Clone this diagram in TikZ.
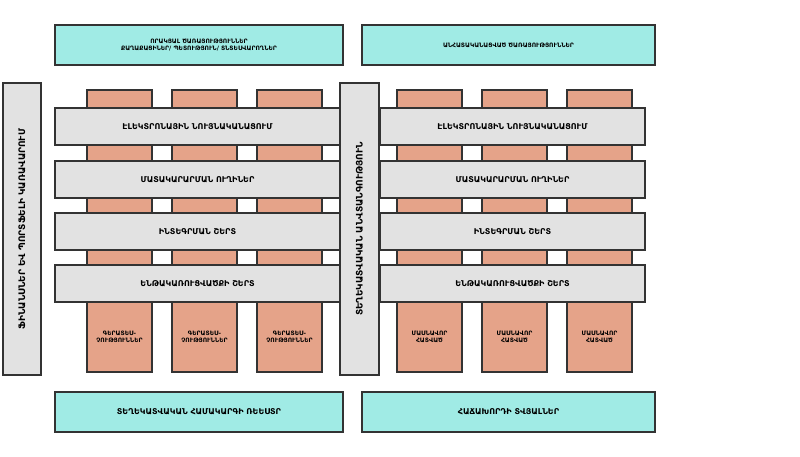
\documentclass[tikz,border=0pt]{standalone}
\usepackage{fontspec}
\setmainfont{DejaVu Sans}
\begin{document}
\begin{tikzpicture}[x=1pt,y=-1pt,
 box/.style={draw=black!80,line width=1.2pt},
 teal/.style={box,fill={rgb,255:red,160;green,235;blue,229}},
 col/.style={box,fill={rgb,255:red,229;green,163;blue,137}},
 band/.style={box,fill={rgb,255:red,226;green,226;blue,226}},
 lab/.style={font=\bfseries\fontsize{8}{10}\selectfont,align=center},
 small/.style={font=\bfseries\fontsize{6}{7.5}\selectfont,align=center}]
\useasboundingbox (0,0) rectangle (800,456);
\draw[teal] (55,25) rectangle (343,65) node[small,midway] (t1) {ՈՐԱԿՅԱԼ ԾԱՌԱՅՈՒԹՅՈՒՆՆԵՐ\\ՔԱՂԱՔԱՑԻՆԵՐ/ ՊԵՏՈՒԹՅՈՒՆ/ ՏՆՏԵՍՎԱՐՈՂՆԵՐ};
\draw[teal] (362,25) rectangle (655,65) node[small,midway] (t2) {ԱՆՀԱՏԱԿԱՆԱՑՎԱԾ ԾԱՌԱՅՈՒԹՅՈՒՆՆԵՐ};
\draw[band] (3,83) rectangle (41,375) node[lab,midway,rotate=90,font=\bfseries\fontsize{9}{11}\selectfont] (v1) {ՖԻՆԱՆՍՆԵՐ ԵՎ ՊՈՐՏՖԵԼԻ ԿԱՌԱՎԱՐՈՒՄ};
\draw[band] (340,83) rectangle (379,375) node[lab,midway,rotate=90,font=\bfseries\fontsize{9}{11}\selectfont] (v2) {ՏԵՂԵԿԱՏՎԱԿԱՆ ԱՆՎՏԱՆԳՈՒԹՅՈՒՆ};
\foreach \x/\n in {87/a,172/b,257/c}{
 \draw[col] (\x,90) rectangle (\x+65,372);
 \node[small] (g\n) at (\x+32.5,337) {ԳԵՐԱՏԵՍ-\\ՉՈՒԹՅՈՒՆՆԵՐ};}
\foreach \x/\n in {397/a,482/b,567/c}{
 \draw[col] (\x,90) rectangle (\x+65,372);
 \node[small] (m\n) at (\x+32.5,337) {ՄԱՍՆԱՎՈՐ\\ՀԱՏՎԱԾ};}
\foreach \y/\t/\n in {108/ԷԼԵԿՏՐՈՆԱՅԻՆ ՆՈՒՅՆԱԿԱՆԱՑՈՒՄ/a,161/ՄԱՏԱԿԱՐԱՐՄԱՆ ՈՒՂԻՆԵՐ/b,213/ԻՆՏԵԳՐՄԱՆ ՇԵՐՏ/c,265/ԵՆԹԱԿԱՌՈՒՑՎԱԾՔԻ ՇԵՐՏ/d}{
 \draw[band] (55,\y) rectangle (340,\y+37);
 \node[lab] (l\n) at (197.5,\y+18.5) {\t};
 \draw[band] (380,\y) rectangle (645,\y+37);
 \node[lab] (r\n) at (512.5,\y+18.5) {\t};}
\draw[teal] (55,392) rectangle (343,432) node[lab,midway] (b1) {ՏԵՂԵԿԱՏՎԱԿԱՆ ՀԱՄԱԿԱՐԳԻ ՌԵԵՍՏՐ};
\draw[teal] (362,392) rectangle (655,432) node[lab,midway] (b2) {ՀԱՃԱԽՈՐԴԻ ՏՎՅԱԼՆԵՐ};
\end{tikzpicture}
\end{document}
